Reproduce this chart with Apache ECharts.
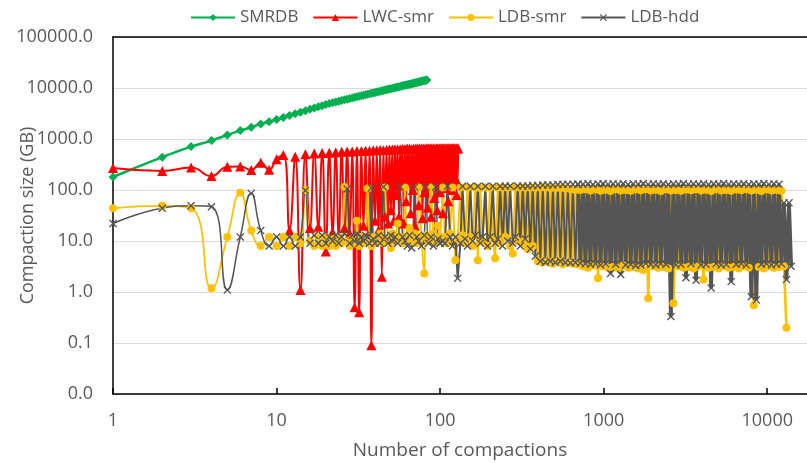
<!DOCTYPE html>
<html>
<head>
<meta charset="utf-8">
<script src="https://cdn.jsdelivr.net/npm/echarts@6/dist/echarts.min.js"></script>
<style>
  html, body { margin: 0; padding: 0; background: #fff; }
  #chart { width: 807px; height: 463px; }
</style>
</head>
<body>
<div id="chart"></div>
<script>
// SMRDB, one value per compaction (x = 1..83)
var smrdb = [
  180, 440, 710, 930, 1200, 1460, 1700, 1970, 2180, 2420,
  2650, 2890, 3120, 3350, 3580, 3820, 4050, 4280, 4510, 4740,
  4970, 5150, 5330, 5510, 5690, 5860, 6040, 6210, 6380, 6550,
  6710, 6880, 7040, 7210, 7370, 7530, 7700, 7860, 8020, 8170,
  8330, 8490, 8640, 8800, 8950, 9110, 9260, 9410, 9560, 9710,
  9860, 10010, 10160, 10300, 10450, 10600, 10740, 10890, 11030, 11180,
  11320, 11460, 11600, 11750, 11890, 12030, 12170, 12310, 12450, 12590,
  12730, 12870, 13000, 13140, 13280, 13410, 13550, 13690, 13820, 13950,
  14090, 14220, 14360
];

// LWC-smr, one value per compaction (x = 1..129)
var lwcSmr = [
  270, 236, 275, 188, 286, 290, 247, 343, 250, 400,
  486, 16, 450, 1.1, 500, 18, 520, 19, 530, 6.2,
  540, 15, 550, 12, 560, 18, 570, 14, 570, 0.5,
  580, 0.4, 580, 20, 590, 12, 590, 0.09, 600, 25,
  600, 16, 610, 2, 600, 30, 610, 22, 620, 40,
  620, 25, 630, 80, 630, 30, 630, 120, 640, 22,
  640, 60, 650, 140, 650, 35, 640, 100, 650, 20,
  650, 130, 660, 50, 650, 150, 660, 28, 650, 90,
  650, 140, 660, 45, 660, 120, 650, 30, 660, 140,
  660, 70, 650, 150, 660, 40, 660, 130, 650, 90,
  660, 150, 660, 35, 650, 140, 660, 110, 660, 150,
  650, 60, 660, 140, 660, 150, 650, 100, 660, 145,
  660, 130, 650, 150, 660, 80, 660, 140, 650
];

// compaction numbers read for the two LevelDB curves
var ldbX = [
  1, 2, 3, 4, 5, 6, 7, 8, 9, 10,
  11, 12, 13, 14, 15, 16, 17, 18, 19, 20,
  21, 22, 23, 24, 25, 26, 27, 28, 29, 30,
  31, 32, 33, 34, 35, 36, 37, 38, 39, 40,
  42, 43, 45, 46, 48, 50, 51, 53, 55, 57,
  59, 61, 63, 65, 67, 70, 72, 74, 77, 80,
  82, 85, 88, 91, 94, 97, 100,
  104, 107, 111, 115, 119, 124, 128, 133, 137, 142,
  147, 153, 158, 164, 170, 176, 182, 189, 195, 202,
  210, 217, 225, 233, 241, 250, 259, 268, 278, 288,
  298, 309, 320, 331, 343, 356, 368, 382, 395, 410,
  424, 440, 455, 472, 489, 506, 524, 543, 563, 583,
  604, 626, 648, 672, 696,
  721, 747, 774, 801, 830, 860, 891, 923, 957, 991,
  1027, 1064, 1102, 1142, 1183, 1225, 1270, 1315, 1363, 1412,
  1463, 1515, 1570, 1626, 1685, 1746, 1808, 1873, 1941, 2011,
  2083, 2158, 2236, 2316, 2400, 2486, 2576, 2668, 2764, 2864,
  2967, 3074, 3185, 3299, 3418, 3541, 3669, 3801, 3938, 4079,
  4226, 4378, 4536, 4699, 4868, 5044, 5225, 5413, 5608, 5810,
  6019, 6236, 6461, 6693, 6934, 7184, 7443, 7711, 7988, 8276,
  8574, 8883, 9202, 9534, 9877, 10232, 10601, 10982, 11378, 11787,
  12212, 12651, 13107, 13579, 14000
];

var ldbSmr = [
  44, 49, 44, 1.18, 12, 88, 16, 8, 12, 8,
  12, 8, 12, 9, 100, 10, 8, 12, 8, 12,
  8, 11, 8, 12, 9, 115, 10, 8, 11, 9,
  25, 8, 12, 9, 10, 107, 9, 8, 12, 9,
  10, 14, 9, 112, 11, 7.3, 14, 10, 22, 12,
  9, 112, 12, 18, 10, 14, 9, 112, 12, 2.3,
  13, 10, 112, 14, 9, 20, 12,
  112, 12, 9, 14, 112, 4.2, 11, 112, 13, 9,
  112, 12, 8, 112, 4.2, 110, 10, 112, 8, 112,
  11, 4.6, 112, 9, 112, 12, 112, 8, 5.7, 112,
  10, 112, 9, 112, 7, 112, 8, 112, 4, 112,
  3.8, 112, 4, 110, 3.6, 110, 4, 110, 3.5, 108,
  3.8, 105, 3.6, 100, 3.5,
  100, 3.2, 104, 3.0, 98, 3.3, 102, 1.85, 97, 3.2,
  101, 3.0, 96, 3.1, 103, 2.9, 98, 3.3, 100, 3.0,
  97, 3.1, 102, 2.9, 99, 2.7, 104, 0.75, 98, 3.2,
  101, 3.0, 96, 3.1, 103, 2.9, 98, 0.6, 100, 3.2,
  97, 3.0, 102, 3.1, 99, 2.9, 104, 3.2, 98, 1.75,
  101, 3.0, 96, 3.1, 103, 2.9, 98, 3.2, 100, 3.0,
  97, 3.1, 102, 2.9, 99, 3.2, 104, 3.0, 98, 0.55,
  101, 3.1, 96, 2.9, 103, 3.2, 98, 3.0, 100, 3.1,
  97, 3.2, 0.2, null, null
];

var ldbHdd = [
  22, 44, 49, 47, 1.1, 12, 86, 16, 8, 12,
  8, 12, 8, 12, 98, 9, 13, 9, 13, 9,
  12, 10, 13, 9, 12, 14, 105, 9, 13, 10,
  14, 9, 12, 10, 13, 12, 9, 110, 11, 9,
  13, 9, 115, 12, 9, 13, 10, 12, 9, 115,
  12, 10, 8, 13, 7.3, 115, 12, 10, 8, 13,
  115, 9, 12, 8, 115, 11, 9,
  10, 9, 118, 12, 8, 12, 1.85, 9, 118, 11,
  8, 118, 10, 13, 118, 9, 12, 118, 8, 12,
  118, 9, 11, 118, 8, 120, 10, 120, 9, 12,
  120, 8, 120, 11, 120, 7, 122, 5, 122, 4,
  125, 3.8, 125, 4, 125, 3.8, 128, 4, 128, 3.8,
  130, 3.7, 130, 3.8, 130,
  3.7, 130, 3.6, 133, 3.5, 128, 3.6, 131, 3.4, 134,
  3.6, 129, 2.3, 132, 3.5, 130, 2.2, 133, 3.4, 128,
  3.5, 132, 3.3, 130, 3.4, 134, 3.6, 129, 3.5, 132,
  3.4, 130, 3.6, 133, 3.5, 128, 0.33, 132, 3.4, 130,
  3.5, 134, 1.9, 129, 3.6, 132, 1.7, 130, 3.4, 133,
  3.5, 128, 1.2, 132, 3.6, 130, 3.4, 134, 3.5, 129,
  1.6, 132, 3.5, 130, 3.6, 133, 3.4, 128, 0.81, 132,
  0.7, 130, 3.5, 134, 3.6, 129, 3.4, 132, 3.5, 130,
  3.6, 56, 1.75, 56, 3.2
];

// first compactions: smoothed line; middle: thin zigzag; dense tail: heavy zigzag
var splitA = 100;
var splitB = 696;

function perCompaction(vals) {
  return vals.map(function (v, i) { return [i + 1, v]; });
}
function pairUp(xs, ys, from, to) {
  var out = [];
  for (var i = 0; i < xs.length; i++) {
    if (ys[i] != null && xs[i] >= from && xs[i] <= to) out.push([xs[i], ys[i]]);
  }
  return out;
}

var font = 'Open Sans';
var txt = '#595959';
var crossIcon = 'path://M0,1.2L1.2,0L5,3.8L8.8,0L10,1.2L6.2,5L10,8.8L8.8,10L5,6.2L1.2,10L0,8.8L3.8,5Z';
var yellow = '#ffc000';
var gray = '#555555';

function ldbPart(name, ys, from, to, smooth, width, symbol, color) {
  return {
    name: name,
    type: 'line',
    smooth: smooth,
    data: pairUp(ldbX, ys, from, to),
    symbol: symbol,
    symbolSize: 8,
    itemStyle: { color: color },
    lineStyle: { color: color, width: width }
  };
}

var chart = echarts.init(document.getElementById('chart'), null, { renderer: 'canvas' });

var option = {
  animation: false,
  backgroundColor: '#fff',
  textStyle: { fontFamily: font },
  legend: {
    top: 4,
    left: 185,
    itemWidth: 44,
    itemHeight: 9,
    itemGap: 14,
    textStyle: { fontSize: 17, color: txt, fontFamily: font },
    data: ['SMRDB', 'LWC-smr', 'LDB-smr', 'LDB-hdd']
  },
  grid: { left: 113, right: 0, top: 37, bottom: 69, containLabel: false, outerBoundsMode: 'none' },
  xAxis: [{
    type: 'log',
    logBase: 10,
    min: 1,
    max: 17500,
    name: 'Number of compactions',
    nameLocation: 'middle',
    nameGap: 47,
    nameMoveOverlap: false,
    nameTextStyle: { fontSize: 19, color: txt, fontFamily: font },
    axisLine: { onZero: false, lineStyle: { color: '#000', width: 1.5 } },
    axisTick: { inside: true, length: 6, lineStyle: { color: '#000', width: 1.5 } },
    axisLabel: {
      color: txt, fontSize: 18, margin: 18, showMaxLabel: false, fontFamily: font,
      formatter: function (v) { return String(v); }
    },
    splitLine: { show: false }
  }, {
    type: 'log',
    position: 'top',
    min: 1,
    max: 17500,
    axisLine: { lineStyle: { color: '#000', width: 1.5 } },
    axisTick: { show: false },
    axisLabel: { show: false },
    splitLine: { show: false }
  }],
  yAxis: {
    type: 'log',
    logBase: 10,
    min: 0.01,
    max: 100000,
    name: 'Compaction size (GB)',
    nameLocation: 'middle',
    nameGap: 76,
    nameMoveOverlap: false,
    nameTextStyle: { fontSize: 18, color: txt, fontFamily: font },
    axisLine: { show: true, lineStyle: { color: '#000', width: 1.5 } },
    axisTick: { show: false },
    axisLabel: {
      color: txt, fontSize: 18, margin: 20, fontFamily: font,
      formatter: function (v) { return v.toFixed(1); }
    },
    splitLine: { lineStyle: { color: '#d9d9d9', width: 1 } }
  },
  series: [{
    name: 'SMRDB',
    type: 'line',
    smooth: true,
    data: perCompaction(smrdb),
    symbol: 'diamond',
    symbolSize: 9,
    itemStyle: { color: '#00b050' },
    lineStyle: { color: '#00b050', width: 2.5 }
  }, {
    name: 'LWC-smr',
    type: 'line',
    smooth: true,
    data: perCompaction(lwcSmr),
    symbol: 'triangle',
    symbolSize: 10,
    itemStyle: { color: '#ff0000' },
    lineStyle: { color: '#ff0000', width: 2 }
  },
    ldbPart('LDB-smr', ldbSmr, 1, splitA, true, 1.75, 'circle', yellow),
    ldbPart('LDB-smr', ldbSmr, splitA, splitB, false, 2, 'circle', yellow),
    ldbPart('LDB-smr', ldbSmr, splitB, Infinity, false, 2.6, 'circle', yellow),
    ldbPart('LDB-hdd', ldbHdd, 1, splitA, true, 1.5, crossIcon, gray),
    ldbPart('LDB-hdd', ldbHdd, splitA, splitB, false, 2, crossIcon, gray),
    ldbPart('LDB-hdd', ldbHdd, splitB, Infinity, false, 3.8, crossIcon, gray)
  ]
};

chart.setOption(option);
</script>
</body>
</html>
